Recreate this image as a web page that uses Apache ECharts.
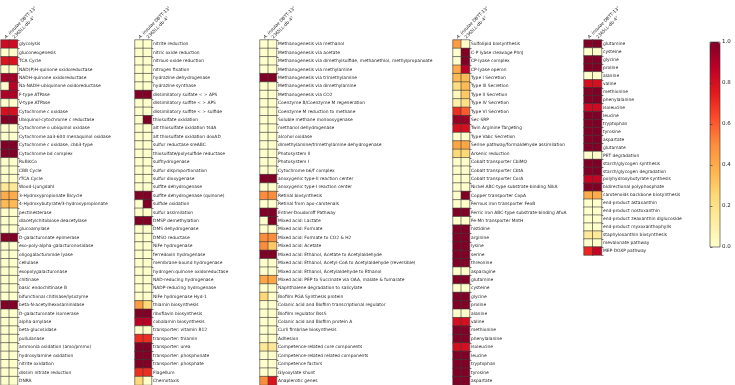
<!DOCTYPE html>
<html>
<head>
<meta charset="utf-8">
<script src="https://cdn.jsdelivr.net/npm/echarts@6/dist/echarts.min.js"></script>
<style>html,body{margin:0;padding:0;background:#fff}#c{width:735px;height:385px}</style>
</head>
<body>
<div id="c"></div>
<script>
const colLabels = ['A. insulae DBTT-13ᵀ', '2365LL-db-4ᵀ'];

const p1Labels = ['glycolysis','gluconeogenesis','TCA Cycle','NAD(P)H-quinone oxidoreductase','NADH-quinone oxidoreductase','Na-NADH-ubiquinone oxidoreductase','F-type ATPase','V-type ATPase','Cytochrome c oxidase','Ubiquinol-cytochrome c reductase','Cytochrome o ubiquinol oxidase','Cytochrome aa3-600 menaquinol oxidase','Cytochrome c oxidase, cbb3-type','Cytochrome bd complex','RuBisCo','CBB Cycle','rTCA Cycle','Wood-Ljungdahl','3-Hydroxypropionate Bicycle','4-Hydroxybutyrate/3-hydroxypropionate','pectinesterase','diacetylchitobiose deacetylase','glucoamylase','D-galacturonate epimerase','exo-poly-alpha-galacturonosidase','oligogalacturonide lyase','cellulase','exopolygalacturonase','chitinase','basic endochitinase B','bifunctional chitinase/lysozyme','beta-N-acetylhexosaminidase','D-galacturonate isomerase','alpha-amylase','beta-glucosidase','pullulanase','ammonia oxidation (amo/pmmo)','hydroxylamine oxidation','nitrite oxidation','dissim nitrate reduction','DNRA'];
const p1A = [0.82,0,0.78,0,0.93,0,0.9,0,0.8,1,0,0,1,1,0,0,0,0.15,0.4,0.35,0,0,0,1,0,0,0,0,0,0,0,1,0,0,0,0,0,0,0,0,0];
const p1B = [0.82,0,0.78,0,0.93,0.88,0.9,0,0.8,1,0,0,1,1,0,0,0,0.15,0.4,0.35,0,0,0,1,0,0,0,0,0,0,0,1,0,0,0,0,0,0,0,0,0];

const p2Labels = ['nitrite reduction','nitric oxide reduction','nitrous-oxide reduction','nitrogen fixation','hydrazine dehydrogenase','hydrazine synthase','dissimilatory sulfate < > APS','dissimilatory sulfite < > APS','dissimilatory sulfite < > sulfide','thiosulfate oxidation','alt thiosulfate oxidation tsdA','alt thiosulfate oxidation doxAD','sulfur reductase sreABC','thiosulfate/polysulfide reductase','sulfhydrogenase','sulfur disproportionation','sulfur dioxygenase','sulfite dehydrogenase','sulfite dehydrogenase (quinone)','sulfide oxidation','sulfur assimilation','DMSP demethylation','DMS dehydrogenase','DMSO reductase','NiFe hydrogenase','ferredoxin hydrogenase','membrane-bound hydrogenase','hydrogen:quinone oxidoreductase','NAD-reducing hydrogenase','NADP-reducing hydrogenase','NiFe hydrogenase Hyd-1','thiamin biosynthesis','riboflavin biosynthesis','cobalamin biosynthesis','transporter: vitamin B12','transporter: thiamin','transporter: urea','transporter: phosphonate','transporter: phosphate','Flagellum','Chemotaxis'];
const p2A = [0,0,0,0,0,0,1,0,0,0,0,0,0,0,0,0,0,0,1,0,0,1,0,0,0,0,0,0,0,0,0,0.45,1,0.88,0,0.7,1,1,1,0.7,0.25];
const p2B = [0,0,0,0,0,0,1,0,0,1,0,0,0,0,0,0,0,0,1,1,0,1,0,0,0,0,0,0,0,0,0,0.25,1,0.88,0,0.7,1,1,1,0.7,0];

const p3Labels = ['Methanogenesis via methanol','Methanogenesis via acetate','Methanogenesis via dimethylsulfide, methanethiol, methylpropanoate','Methanogenesis via methylamine','Methanogenesis via trimethylamine','Methanogenesis via dimethylamine','Methanogenesis via CO2','Coenzyme B/Coenzyme M regeneration','Coenzyme M reduction to methane','Soluble methane monooxygenase','methanol dehydrogenase','alcohol oxidase','dimethylamine/trimethylamine dehydrogenase','Photosystem II','Photosystem I','Cytochrome b6/f complex','anoxygenic type-II reaction center','anoxygenic type-I reaction center','Retinal biosynthesis','Retinal from apo-carotenals','Entner-Doudoroff Pathway','Mixed acid: Lactate','Mixed acid: Formate','Mixed acid: Formate to CO2 & H2','Mixed acid: Acetate','Mixed acid: Ethanol, Acetate to Acetylaldehyde','Mixed acid: Ethanol, Acetyl-CoA to Acetylaldehyde (reversible)','Mixed acid: Ethanol, Acetylaldehyde to Ethanol','Mixed acid: PEP to Succinate via OAA, malate & fumarate','Naphthalene degradation to salicylate','Biofilm PGA Synthesis protein','Colanic acid and Biofilm transcriptional regulator','Biofilm regulator BssS','Colanic acid and Biofilm protein A','Curli fimbriae biosynthesis','Adhesion','Competence-related core components','Competence-related related components','Competence factors','Glyoxylate shunt','Anaplerotic genes'];
const p3A = [0,0,0,0,1,0,0,0,0,0,0,0,0,0,0,0,1,0,0.5,0,1,0,0,0.5,0.5,1,0,0,0.42,0,0.25,0,0,0,0,0,0.15,0,0,0,0.5];
const p3B = [0,0,0,0,1,0,0,0,0,0,0,0,0,0,0,0,1,0,0.5,0,1,1,0,0.5,0.3,1,0,0,0.42,0,0,0,0,0,0,0,0.15,0,0,0,0.78];

const p4Labels = ['Sulfolipid biosynthesis','C-P lyase cleavage PhnJ','CP-lyase complex','CP-lyase operon','Type I Secretion','Type III Secretion','Type II Secretion','Type IV Secretion','Type VI Secretion','Sec-SRP','Twin Arginine Targeting','Type Vabc Secretion','Serine pathway/formaldehyde assimilation','Arsenic reduction','Cobalt transporter CbiMQ','Cobalt transporter CbtA','Cobalt transporter CorA','Nickel ABC-type substrate-binding NikA','Copper transporter CopA','Ferrous iron transporter FeoB','Ferric iron ABC-type substrate-binding AfuA','Fe-Mn transporter MntH','histidine','arginine','lysine','serine','threonine','asparagine','glutamine','cysteine','glycine','proline','alanine','valine','methionine','phenylalanine','isoleucine','leucine','tryptophan','tyrosine','aspartate'];
const p4A = [0.45,0,0,0.4,0.35,0.22,0.05,0.1,0.7,0.95,0.8,0,0.42,0.25,0,0,0,0,0,0,1,0,1,1,1,1,1,0,1,0,1,1,0,0.8,1,1,0.8,1,1,1,1];
const p4B = [0,1,1,0.88,0.35,0.35,0.3,0.2,0.6,0.95,0.8,0,0.42,0.25,0,0,0,0,1,0,1,0,1,1,1,1,1,0,1,0,1,1,0,0.8,1,1,0.8,1,1,1,1];

const p5Labels = ['glutamine','cysteine','glycine','proline','alanine','valine','methionine','phenylalanine','isoleucine','leucine','tryptophan','tyrosine','aspartate','glutamate','PET degradation','starch/glycogen synthesis','starch/glycogen degradation','polyhydroxybutyrate synthesis','bidirectional polyphosphate','carotenoids backbone biosynthesis','end-product astaxanthin','end-product nostoxanthin','end-product zeaxanthin diglucoside','end-product myxoxanthophylls','staphyloxanthin biosynthesis','mevalonate pathway','MEP-DOXP pathway'];
const p5A = [1,0,1,1,0,0.8,1,1,0.82,1,1,1,1,1,0,1,1,0.85,1,0.4,0,0,0,0,0.15,0,0.72];
const p5B = [1,0,1,1,0,0.8,1,1,0.82,1,1,1,1,1,0,1,1,0.85,1,0.4,0,0,0,0,0.15,0,0.85];

const cbTicks = [0, 0.2, 0.4, 0.6, 0.8, 1.0];

const ylorrd = ['#ffffcc','#ffeda0','#fed976','#feb24c','#fd8d3c','#fc4e2a','#e31a1c','#bd0026','#800026'];

const panels = [
  {labels: p1Labels, a: p1A, b: p1B, left: 1, width: 16.5, top: 40, height: 345.2},
  {labels: p2Labels, a: p2A, b: p2B, left: 135, width: 16.5, top: 40, height: 345.2},
  {labels: p3Labels, a: p3A, b: p3B, left: 260, width: 16.5, top: 40, height: 345.2},
  {labels: p4Labels, a: p4A, b: p4B, left: 453, width: 16.5, top: 40, height: 345.2},
  {labels: p5Labels, a: p5A, b: p5B, left: 584, width: 17.5, top: 40, height: 215}
];

const grids = [], xAxes = [], yAxes = [], series = [];
const FONT = 'DejaVu Sans';
const FS = 4.4;
panels.forEach((p, i) => {
  grids.push({left: p.left, top: p.top, width: p.width, height: p.height, containLabel: false});
  xAxes.push({
    type: 'category', gridIndex: i, data: colLabels, position: 'top',
    axisLine: {show: false}, axisTick: {show: false}, splitLine: {show: false},
    axisLabel: {
      rotate: -45, interval: 0, margin: 2, fontSize: FS, color: '#222', fontFamily: FONT,
      formatter: v => v.startsWith('A. insulae') ? '{i|A. insulae}' + v.slice(10) : v,
      rich: {i: {fontStyle: 'italic', fontSize: FS, color: '#222', fontFamily: FONT}}
    }
  });
  yAxes.push({
    type: 'category', gridIndex: i, data: p.labels, inverse: true, position: 'right',
    axisLine: {show: false}, splitLine: {show: false},
    axisTick: {show: true, length: 2, lineStyle: {color: '#333', width: 0.6}},
    axisLabel: {interval: 0, margin: 1.5, fontSize: FS, color: '#262626', fontFamily: FONT}
  });
  const data = [];
  p.labels.forEach((l, r) => {
    data.push([0, r, p.a[r]]);
    data.push([1, r, p.b[r]]);
  });
  series.push({
    type: 'heatmap', xAxisIndex: i, yAxisIndex: i, data: data,
    itemStyle: {borderColor: '#3a3a3a', borderWidth: 0.6},
    emphasis: {disabled: true}
  });
});

// colorbar axis
grids.push({left: 710, top: 42, width: 10, height: 205, show: true, borderColor: '#333', borderWidth: 0.6, backgroundColor: 'transparent', z: 10});
xAxes.push({type: 'value', gridIndex: 5, show: false, min: 0, max: 1});
yAxes.push({
  type: 'value', gridIndex: 5, min: cbTicks[0], max: cbTicks[cbTicks.length - 1], interval: 0.2, position: 'right',
  axisLine: {show: false}, splitLine: {show: false}, z: 10,
  axisTick: {show: true, length: 2.5, lineStyle: {color: '#333', width: 0.6}},
  axisLabel: {fontSize: 5.5, margin: 2, color: '#222', fontFamily: FONT, formatter: v => v.toFixed(1)}
});

const chart = echarts.init(document.getElementById('c'), null, {renderer: 'canvas'});
chart.setOption({
  backgroundColor: '#fff',
  animation: false,
  grid: grids, xAxis: xAxes, yAxis: yAxes, series: series,
  visualMap: {
    type: 'continuous', min: 0, max: 1, calculable: false, show: true,
    seriesIndex: [0, 1, 2, 3, 4],
    left: 710, top: 42, itemWidth: 10, itemHeight: 205, padding: 0, text: null,
    inRange: {color: ylorrd}
  }
});
</script>
</body>
</html>
